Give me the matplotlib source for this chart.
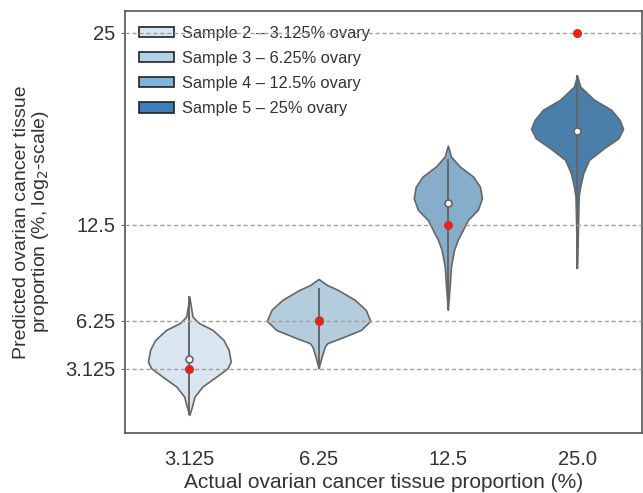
import numpy as np
import matplotlib.pyplot as plt
from matplotlib.patches import Patch

plt.rcParams['font.family'] = ['Liberation Sans', 'DejaVu Sans']

# categories and point values
categories = ['3.125', '6.25', '12.5', '25.0']
actual = [3.125, 6.25, 12.5, 25.0]
medians = [3.78, 6.3, 13.93, 18.62]
whisker_lo = [0.2, 3.2, 7.0, 9.7]
whisker_hi = [7.8, 8.3, 16.7, 22.2]
yticks = [3.125, 6.25, 12.5, 25]
yticklabels = ['3.125', '6.25', '12.5', '25']

legend_labels = ['Sample 2 \u2013 3.125% ovary', 'Sample 3 \u2013 6.25% ovary',
                 'Sample 4 \u2013 12.5% ovary', 'Sample 5 \u2013 25% ovary']
violin_colors = ['#d9e6f2', '#b4cddd', '#86aecb', '#4a7fac']
legend_colors = ['#d5e5f4', '#b0d2e7', '#7db4d9', '#3d7ebd']

# violin outlines: height (%) and relative density (1 = widest)
v1_y = [7.83, 7.18, 6.53, 6.32, 6.10, 5.66, 5.01, 4.36, 3.60, 3.17, 2.62, 1.97, 1.32, 0.67, 0.13]
v1_d = [0, .03, .06, .12, .19, .45, .66, .76, .80, .74, .52, .25, .10, .05, 0]
v2_y = [8.98, 8.59, 8.27, 7.62, 6.97, 6.25, 5.66, 5.13, 4.80, 4.58, 3.93, 3.17]
v2_d = [0, .16, .37, .70, .91, 1.0, .82, .43, .17, .12, .06, 0]
v3_y = [17.66, 16.95, 16.30, 15.64, 14.99, 14.24, 13.48, 12.83, 12.17, 11.52, 10.87, 9.79, 8.72, 6.97]
v3_d = [0, .06, .23, .49, .62, .66, .58, .39, .29, .19, .12, .06, .04, 0]
v4_y = [22.22, 21.5, 20.64, 19.99, 19.34, 18.75, 18.14, 17.49, 16.73, 15.87, 14.99, 14.34, 9.70]
v4_d = [0, .06, .33, .66, .82, .89, .80, .52, .23, .12, .06, .03, 0]
profiles = [(v1_y, v1_d), (v2_y, v2_d), (v3_y, v3_d), (v4_y, v4_d)]

edge = '#666666'
txt = '#333333'
fig = plt.figure(figsize=(6.43, 4.93), dpi=100)
ax = fig.add_axes([0.194, 0.122, 0.804, 0.856])

half = 0.4
for i, (py, pd_) in enumerate(profiles):
    py = np.array(py)
    w = np.array(pd_) * half
    ax.fill_betweenx(py, i - w, i + w, facecolor=violin_colors[i],
                     edgecolor=edge, linewidth=1.2, zorder=2)
    ax.plot([i, i], [whisker_lo[i], whisker_hi[i]], color=edge, lw=1.4, zorder=2.5)

for t in yticks:
    ax.axhline(t, color='#a0a0a0', lw=1, ls=(0, (3, 2)), zorder=3)

x = np.arange(len(categories))
ax.plot(x, medians, 'o', ms=5, mfc='white', mec=edge, mew=1.2, zorder=4)
ax.plot(x, actual, 'o', ms=6.5, color='#e3261c', mec='none', zorder=5)

ax.set_xlim(-0.5, 3.5)
ax.set_ylim(-1.04, 26.43)
ax.set_xticks(x)
ax.set_xticklabels(categories)
ax.set_yticks(yticks)
ax.set_yticklabels(yticklabels)
ax.tick_params(axis='x', length=0, pad=12, labelsize=14.5, labelcolor=txt)
ax.tick_params(axis='y', length=3, color='#666666', pad=4, labelsize=14.5, labelcolor=txt)
for s in ax.spines.values():
    s.set_color('#555555')
    s.set_linewidth(1.2)

ax.set_xlabel('Actual ovarian cancer tissue proportion (%)', fontsize=15, color=txt)
ax.xaxis.set_label_coords(0.5, -0.095)
ax.set_ylabel('Predicted ovarian cancer tissue\nproportion (%, log$_2$-scale)', fontsize=14,
              color=txt, linespacing=1.0)
ax.yaxis.set_label_coords(-0.143, 0.5)

handles = [Patch(facecolor=c, edgecolor='#222222', lw=1.2) for c in legend_colors]
leg = ax.legend(handles, legend_labels, loc='upper left', frameon=False, fontsize=11.8,
                handlelength=2.1, handleheight=0.6, labelspacing=0.62, handletextpad=0.5,
                bbox_to_anchor=(0.0, 1.0), borderaxespad=0.5)
for t in leg.get_texts():
    t.set_color(txt)
leg.set_zorder(1)

fig.savefig('out.png', dpi=100)
